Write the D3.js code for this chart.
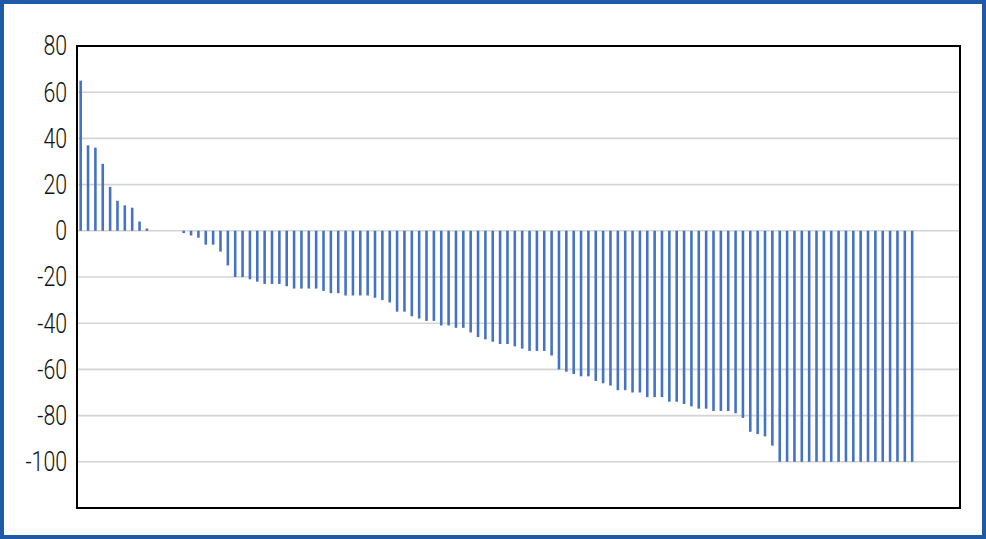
<!DOCTYPE html>
<html>
<head>
<meta charset="utf-8">
<script src="https://cdn.jsdelivr.net/npm/d3@7"></script>
<style>
  html, body { margin: 0; padding: 0; background: #fff; }
  .tick text { font-family: "Roboto", "Noto Sans", sans-serif; font-weight: 300; }
</style>
</head>
<body>
<div id="chart"></div>
<script>
// bar values, one per slot (null = empty slot at the end of the axis)
const values = [
  65, 37, 36, 29, 19, 13, 11, 10, 4, 1,
  0, 0, 0, 0, -1, -2, -3, -6, -6, -9,
  -15, -20, -20, -21, -22, -23, -23, -23, -24, -25,
  -25, -25, -25, -26, -27, -27, -28, -28, -28, -28,
  -29, -30, -31, -35, -35, -37, -38, -39, -39, -41,
  -41, -42, -42, -44, -46, -47, -48, -49, -49, -50,
  -51, -52, -52, -52, -54, -60, -61, -62, -63, -63,
  -65, -66, -67, -69, -69, -70, -70, -72, -72, -72,
  -74, -74, -75, -76, -77, -77, -78, -78, -78, -79,
  -81, -87, -88, -89, -93, -100, -100, -100, -100, -100,
  -100, -100, -100, -100, -100, -100, -100, -100, -100, -100,
  -100, -100, -100, -100, null, null, null, null, null, null
];
const categories = values.map((d, i) => i + 1);
const yTicks = [-100, -80, -60, -40, -20, 0, 20, 40, 60, 80];
const yDomain = [-120, 80];

const cfg = {
  width: 986,
  height: 539,
  margin: { top: 46, right: 26, bottom: 31, left: 77 },
  barColor: "#4472C4",
  gridColor: "#d4d4d4",
  frameColor: "#1f5aa6",
  labelSquash: 0.76   // tick font is a condensed face
};

const svg = d3.select("#chart")
  .append("svg")
  .attr("width", cfg.width)
  .attr("height", cfg.height);

// outer blue frame
svg.append("rect")
  .attr("x", 2)
  .attr("y", 2)
  .attr("width", cfg.width - 4)
  .attr("height", cfg.height - 4)
  .attr("fill", "#fff")
  .attr("stroke", cfg.frameColor)
  .attr("stroke-width", 4);

const w = cfg.width - cfg.margin.left - cfg.margin.right;
const h = cfg.height - cfg.margin.top - cfg.margin.bottom;

const plot = svg.append("g")
  .attr("transform", "translate(" + cfg.margin.left + "," + cfg.margin.top + ")");

const x = d3.scaleBand()
  .domain(categories)
  .range([0, w])
  .paddingInner(0.65)
  .paddingOuter(0.325);

const y = d3.scaleLinear()
  .domain(yDomain)
  .range([h, 0]);

// gridlines
plot.append("g")
  .selectAll("line")
  .data(yTicks)
  .join("line")
  .attr("x1", 0)
  .attr("x2", w)
  .attr("y1", d => y(d))
  .attr("y2", d => y(d))
  .attr("stroke", cfg.gridColor)
  .attr("stroke-width", 1.6);

// y axis labels
const yAxis = plot.append("g")
  .call(d3.axisLeft(y).tickValues(yTicks).tickSize(0).tickPadding(10).tickFormat(d => String(d)));
yAxis.select(".domain").remove();
yAxis.selectAll("text")
  .attr("font-size", 28)
  .attr("fill", "#111")
  .each(function() {
    const len = this.getComputedTextLength();
    d3.select(this)
      .attr("textLength", len * cfg.labelSquash)
      .attr("lengthAdjust", "spacingAndGlyphs");
  });

// bars
plot.append("g")
  .selectAll("rect")
  .data(values.map((v, i) => ({ c: categories[i], v: v })).filter(d => d.v !== null))
  .join("rect")
  .attr("x", d => x(d.c))
  .attr("width", x.bandwidth())
  .attr("y", d => y(Math.max(0, d.v)))
  .attr("height", d => Math.abs(y(d.v) - y(0)))
  .attr("fill", cfg.barColor);

// plot border
plot.append("rect")
  .attr("width", w)
  .attr("height", h)
  .attr("fill", "none")
  .attr("stroke", "#000")
  .attr("stroke-width", 2);
</script>
</body>
</html>
